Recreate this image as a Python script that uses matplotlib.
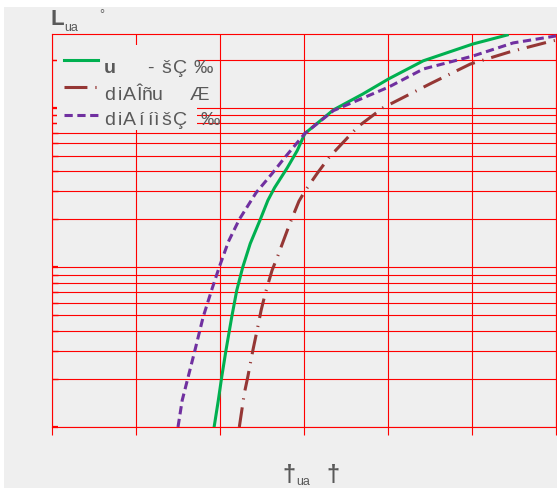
import matplotlib
matplotlib.use("Agg")
import matplotlib.pyplot as plt
from matplotlib.lines import Line2D
from matplotlib.patches import Rectangle
from matplotlib.ticker import LogLocator, MultipleLocator, NullFormatter

# curve data (x linear 0..6, y log 1..290)
green_x = [1.93, 1.98, 2.02, 2.07, 2.14, 2.20, 2.27, 2.36, 2.48, 2.57, 2.65, 2.80, 2.92,
           3.01, 3.35, 3.70, 4.01, 4.42, 4.70, 5.01, 5.42]
green_y = [1.0, 1.47, 2.05, 3.0, 4.9, 7.2, 10, 14.1, 20, 26.3, 31.6, 42, 54,
           69, 97, 122, 152, 197, 221, 251, 286]

brown_x = [2.23, 2.29, 2.33, 2.39, 2.44, 2.49, 2.54, 2.62, 2.68, 2.80, 2.86, 2.94, 3.01,
           3.16, 3.30, 3.64, 3.94, 4.52, 4.98, 5.45, 5.95, 6.00]
brown_y = [1.0, 1.63, 2.05, 3.0, 4.0, 5.4, 6.9, 9.6, 11.5, 17, 20.5, 26, 30,
           39, 49, 76, 100, 143, 188, 224, 262, 265]

purple_x = [1.50, 1.55, 1.62, 1.70, 1.80, 1.90, 1.99, 2.10, 2.23, 2.43, 2.62, 2.77, 3.01,
            3.35, 4.01, 4.42, 5.01, 5.49, 6.00]
purple_y = [1.0, 1.47, 2.05, 3.0, 4.9, 7.2, 10, 14.5, 20, 29.4, 38.7, 48.7, 69,
            96, 135, 175, 211, 255, 282]

# legend text, one glyph per entry (the source font was condensed and letter-spaced)
legend_rows = [
    ["u", "-", "š", "Ç", "‰"],
    ["d", "i", "A", "Î", "ñ", "u", "Æ"],
    ["d", "i", "A", "í", "í", "ì", "š", "Ç", "‰"],
]
legend_row_x = [
    [110, 150, 166, 180, 203],
    [110, 120, 129, 139, 147, 157, 199],
    [110, 120, 129, 141, 150, 157, 166, 180, 210],
]
ylabel_main, ylabel_sub, ylabel_tail = "L", "ua", "°"
xlabel_main, xlabel_sub, xlabel_tail = "†", "ua", "†"

W, H = 557, 488
GREEN = "#00b050"
BROWN = "#953735"
PURPLE = "#7030a0"
TEXT = "#595959"
BG = "#efefef"
FONT = ["Liberation Sans", "DejaVu Sans"]


def fxy(px, py):
    # pixel (from top-left) -> figure fraction
    return px / W, 1 - py / H


def main():
    fig = plt.figure(figsize=(W / 100, H / 100), dpi=100)
    fig.patch.set_facecolor("white")

    # gray panel behind everything, white strip top/left
    x0, y0 = fxy(4, 488)
    x1, y1 = fxy(557, 7)
    fig.add_artist(Rectangle((x0, y0), x1 - x0, y1 - y0, transform=fig.transFigure,
                             facecolor=BG, edgecolor="none", zorder=-10))

    l, b = fxy(52, 427)
    r, t = fxy(556, 34)
    ax = fig.add_axes([l, b, r - l, t - b])
    ax.set_facecolor(BG)
    ax.set_axisbelow(True)

    ax.set_yscale("log")
    ax.set_xlim(0, 6)
    ax.set_ylim(1, 290)
    ax.xaxis.set_major_locator(MultipleLocator(1))
    ax.yaxis.set_major_locator(LogLocator(base=10))
    ax.yaxis.set_minor_locator(LogLocator(base=10, subs=range(2, 10)))
    ax.xaxis.set_major_formatter(NullFormatter())
    ax.yaxis.set_major_formatter(NullFormatter())
    ax.yaxis.set_minor_formatter(NullFormatter())

    ax.grid(True, which="both", color="red", lw=0.8)
    for s in ax.spines.values():
        s.set_color("red")
        s.set_linewidth(0.8)
    ax.tick_params(axis="x", which="both", direction="out", length=6, color="red", width=0.8)
    ax.tick_params(axis="y", which="major", direction="in", length=4, color="red", width=1.6)
    ax.tick_params(axis="y", which="minor", direction="in", length=4, color="red", width=1.0)

    lw = 2.2
    ax.plot(green_x, green_y, color=GREEN, lw=lw, zorder=3)
    ax.plot(brown_x, brown_y, color=BROWN, lw=lw, dashes=(6.5, 2.6, 0.4, 2.6), zorder=3)
    ax.plot(purple_x, purple_y, color=PURPLE, lw=lw, dashes=(2.7, 1.5), zorder=3)

    # legend box hides the grid behind it, text runs past it
    bx0, by0 = fxy(57, 130)
    bx1, by1 = fxy(197, 45)
    fig.add_artist(Rectangle((bx0, by0), bx1 - bx0, by1 - by0, transform=fig.transFigure,
                             facecolor=BG, edgecolor="none", zorder=5))

    styles = [dict(color=GREEN), dict(color=BROWN, dashes=(7.5, 2.6, 0.4, 2.6)),
              dict(color=PURPLE, dashes=(2.7, 1.5))]
    rows = [60, 87, 115]
    bases = [73, 100, 125]
    for i, (style, yr, yb) in enumerate(zip(styles, rows, bases)):
        hx0, hy = fxy(64, yr)
        hx1, _ = fxy(98, yr)
        fig.add_artist(Line2D([hx0, hx1], [hy, hy], transform=fig.transFigure,
                              lw=lw, zorder=6, **style))
        for j, (ch, cx) in enumerate(zip(legend_rows[i], legend_row_x[i])):
            weight = "bold" if (i == 0 and j == 0) else "normal"
            fig.text(*fxy(cx, yb), ch, family=FONT, fontsize=14, fontweight=weight,
                     color=TEXT, va="baseline", ha="center", zorder=7)

    # axis titles
    fig.text(*fxy(50, 25), ylabel_main, family=FONT, fontsize=16, fontweight="bold",
             color=TEXT, va="baseline")
    fig.text(*fxy(64, 31), ylabel_sub, family=FONT, fontsize=9, color=TEXT, va="baseline")
    fig.text(*fxy(99, 18), ylabel_tail, family=FONT, fontsize=9, color=TEXT, va="baseline")

    fig.text(*fxy(289, 482), xlabel_main, family=FONT, fontsize=17, fontweight="bold",
             color=TEXT, va="baseline", ha="center")
    fig.text(*fxy(296, 485), xlabel_sub, family=FONT, fontsize=9, color=TEXT, va="baseline")
    fig.text(*fxy(333, 482), xlabel_tail, family=FONT, fontsize=17, fontweight="bold",
             color=TEXT, va="baseline", ha="center")

    fig.savefig("out.png", dpi=100, facecolor=fig.get_facecolor())


if __name__ == "__main__":
    main()
